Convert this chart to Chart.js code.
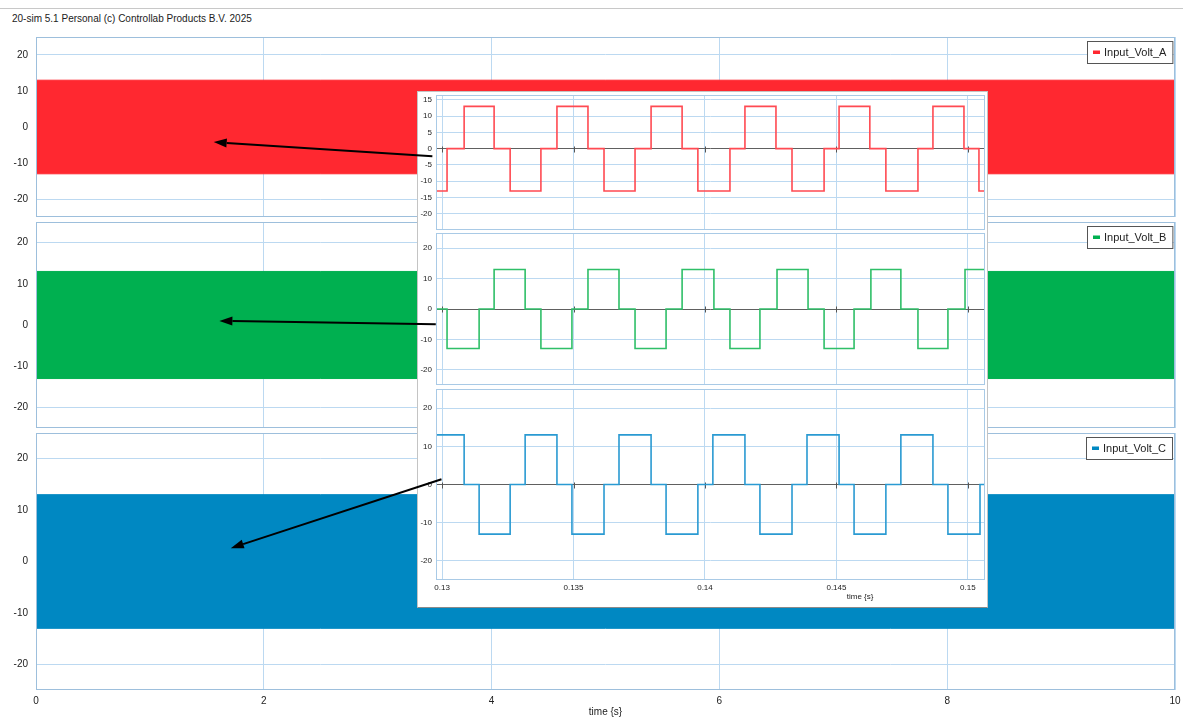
<!DOCTYPE html>
<html lang="en">
<head>
<meta charset="UTF-8">
<title>Input voltages</title>
<script src="https://cdn.jsdelivr.net/npm/chart.js"></script>
<style>
  body { margin: 0; background: #fff; width: 1183px; height: 719px; position: relative; overflow: hidden; font-family: "Liberation Sans", Arial, sans-serif; }
  canvas { position: absolute; }
  #topline { position: absolute; left: 0; top: 8px; width: 1183px; height: 1px; background: #c8c8c8; }
  #header { position: absolute; left: 12px; top: 13px; font-size: 10px; line-height: 12px; color: #222; }
  #inset { position: absolute; left: 417px; top: 91px; width: 569px; height: 515px; background: #fff; border: 1px solid #c4c4c4; border-bottom-color: #8a8a8a; }
  #arrows { z-index: 5; pointer-events: none; }
</style>
</head>
<body>
<div id="topline"></div>
<div id="header">20-sim 5.1 Personal (c) Controllab Products B.V. 2025</div>

<canvas id="panelA" width="1183" height="182" style="left:0;top:36px"></canvas>
<canvas id="panelB" width="1183" height="208" style="left:0;top:221px"></canvas>
<canvas id="panelC" width="1183" height="287" style="left:0;top:432px"></canvas>

<div id="inset"></div>
<canvas id="zoomA" width="568" height="140" style="left:418px;top:92px"></canvas>
<canvas id="zoomB" width="568" height="156" style="left:418px;top:231px"></canvas>
<canvas id="zoomC" width="568" height="220" style="left:418px;top:387px"></canvas>

<canvas id="arrows" width="1183" height="719" style="left:0;top:0"></canvas>

<script>
// whole run, 0..10 s. the switching is far too fast to see single periods here,
// so only the band between the two levels is drawn
const runTime = [0, 10];
const voltAMax = [13, 13];
const voltAMin = [-13, -13];
const voltBMax = [13, 13];
const voltBMin = [-13, -13];
const voltCMax = [13, 13];
const voltCMin = [-13, -13];
const runTicks = [0, 2, 4, 6, 8, 10];
const voltTicks = [-20, -10, 0, 10, 20];

// zoom window 0.13..0.15 s: switching instants and the level held from each one on
const zoomATime = [0.12977, 0.13019, 0.13084, 0.13198, 0.13259, 0.13376, 0.13437, 0.13555, 0.13616,
  0.13734, 0.13795, 0.13913, 0.13973, 0.14095, 0.14152, 0.14270, 0.14331, 0.14453, 0.14510, 0.14627,
  0.14688, 0.14810, 0.14867, 0.14985, 0.15042, 0.15065];
const zoomALevel = [-13, 0, 13, 0, -13, 0, 13, 0, -13, 0, 13, 0, -13, 0, 13, 0, -13, 0, 13, 0,
  -13, 0, 13, 0, -13, -13];

const zoomBTime = [0.12977, 0.13019, 0.13141, 0.13198, 0.13316, 0.13376, 0.13494, 0.13555, 0.13673,
  0.13734, 0.13852, 0.13913, 0.14034, 0.14095, 0.14209, 0.14274, 0.14392, 0.14453, 0.14567, 0.14631,
  0.14745, 0.14810, 0.14924, 0.14989, 0.15065];
const zoomBLevel = [0, -13, 0, 13, 0, -13, 0, 13, 0, -13, 0, 13, 0, -13, 0, 13, 0, -13, 0, 13,
  0, -13, 0, 13, 13];

const zoomCTime = [0.12977, 0.13084, 0.13141, 0.13259, 0.13316, 0.13437, 0.13494, 0.13616, 0.13673,
  0.13795, 0.13852, 0.13973, 0.14030, 0.14152, 0.14209, 0.14331, 0.14388, 0.14510, 0.14567, 0.14688,
  0.14745, 0.14867, 0.14924, 0.15046, 0.15065];
const zoomCLevel = [13, 0, -13, 0, 13, 0, -13, 0, 13, 0, -13, 0, 13, 0, -13, 0, 13, 0, -13, 0,
  13, 0, -13, 0, 0];

const zoomTicks = [0.13, 0.135, 0.14, 0.145, 0.15];
const zoomATicks = [-20, -15, -10, -5, 0, 5, 10, 15];

// arrows from the zoom window back to the bands (panel time / volt values)
const arrowFrom = [[3.48, -8.1], [3.51, 0.2], [3.56, 16.0]];
const arrowTo = [[1.56, -4.2], [1.61, 1.0], [1.71, 2.6]];

const RED = '#ff2830', GREEN = '#00b050', BLUE = '#0088c2';
const GRID = '#bcd9f1', FRAME = '#9dbfdc';

Chart.defaults.font.family = '"Liberation Sans", Arial, sans-serif';
Chart.defaults.color = '#222';

// border round the plot area
const framePlugin = {
  id: 'frame',
  afterDatasetsDraw(chart, args, opts) {
    const a = chart.chartArea, ctx = chart.ctx;
    ctx.save();
    ctx.strokeStyle = opts.color;
    ctx.lineWidth = 1;
    ctx.strokeRect(a.left + 0.5, a.top + 0.5, a.right - a.left - 1, a.bottom - a.top - 1);
    ctx.restore();
  }
};

// small boxed legend in the top right corner
const boxLegend = {
  id: 'boxLegend',
  afterDraw(chart, args, opts) {
    if (!opts.text) return;
    const a = chart.chartArea, ctx = chart.ctx;
    ctx.save();
    ctx.font = '11px "Liberation Sans", Arial, sans-serif';
    const w = 18 + ctx.measureText(opts.text).width + 5, h = 22;
    const x = Math.round(a.right - 3 - w), y = a.top + 4;
    ctx.fillStyle = '#fff';
    ctx.fillRect(x, y, w, h);
    ctx.strokeStyle = '#555';
    ctx.strokeRect(x + 0.5, y + 0.5, w, h);
    ctx.fillStyle = opts.color;
    ctx.fillRect(x + 6, y + h / 2 - 1.5, 7, 3.5);
    ctx.fillStyle = '#222';
    ctx.textBaseline = 'middle';
    ctx.fillText(opts.text, x + 17, y + h / 2 + 1);
    ctx.restore();
  }
};

// dark zero line marks where the time grid crosses it
const zeroMarks = {
  id: 'zeroMarks',
  beforeDatasetsDraw(chart) {
    const ctx = chart.ctx, y0 = Math.round(chart.scales.y.getPixelForValue(0)) + 0.5;
    ctx.save();
    ctx.strokeStyle = '#555';
    ctx.lineWidth = 1;
    chart.scales.x.ticks.forEach(t => {
      const px = Math.round(chart.scales.x.getPixelForValue(t.value)) + 0.5;
      ctx.beginPath(); ctx.moveTo(px, y0 - 3); ctx.lineTo(px, y0 + 3); ctx.stroke();
    });
    ctx.restore();
  }
};

// axis title of the zoom window, sits off-centre
const zoomTitle = {
  id: 'zoomTitle',
  afterDraw(chart, args, opts) {
    if (!opts.text) return;
    const ctx = chart.ctx;
    ctx.save();
    ctx.font = '8px "Liberation Sans", Arial, sans-serif';
    ctx.fillStyle = '#222';
    ctx.textAlign = 'center';
    ctx.textBaseline = 'middle';
    ctx.fillText(opts.text, chart.scales.x.getPixelForValue(opts.at), chart.chartArea.bottom + 17);
    ctx.restore();
  }
};

// keep the plot area exactly where the layout padding puts it
function noPad(s) {
  s.paddingTop = 0; s.paddingBottom = 0; s.paddingLeft = 0; s.paddingRight = 0;
}

function bandPanel(id, name, color, maxV, minV, showAxis) {
  return new Chart(document.getElementById(id), {
    type: 'line',
    data: {
      datasets: [
        { label: name, data: runTime.map((t, i) => ({ x: t, y: maxV[i] })), borderColor: color,
          backgroundColor: color, borderWidth: 1, pointRadius: 0, fill: '+1' },
        { label: name + ' min', data: runTime.map((t, i) => ({ x: t, y: minV[i] })), borderColor: color,
          borderWidth: 1, pointRadius: 0, fill: false }
      ]
    },
    options: {
      responsive: false, animation: false, devicePixelRatio: 1,
      layout: { autoPadding: false, padding: { top: 1, right: 8, bottom: showAxis ? 0 : 1, left: 0 } },
      plugins: {
        legend: { display: false }, tooltip: { enabled: false },
        frame: { color: FRAME }, boxLegend: { text: name, color: color }
      },
      scales: {
        x: {
          type: 'linear', min: 0, max: 10,
          afterBuildTicks: s => { s.ticks = runTicks.map(v => ({ value: v })); },
          afterFit: s => { s.height = showAxis ? 29 : 0; noPad(s); },
          grid: { color: GRID, drawTicks: false }, border: { display: false },
          ticks: { display: showAxis, padding: 5, font: { size: 10 }, maxRotation: 0, autoSkip: false },
          title: { display: showAxis, text: 'time {s}', font: { size: 10 }, padding: { top: 0, bottom: 1 } }
        },
        y: {
          min: -25, max: 25,
          afterBuildTicks: s => { s.ticks = voltTicks.map(v => ({ value: v })); },
          afterFit: s => { s.width = 36; noPad(s); },
          grid: { color: GRID, drawTicks: false }, border: { display: false },
          ticks: { padding: 8, font: { size: 10 } }
        }
      }
    },
    plugins: [framePlugin, boxLegend]
  });
}

function zoomPanel(id, color, times, levels, yMin, yMax, yTicks, padTop, padBottom, showAxis) {
  return new Chart(document.getElementById(id), {
    type: 'line',
    data: {
      datasets: [{
        data: times.map((t, i) => ({ x: t, y: levels[i] })), stepped: 'before',
        borderColor: color, borderWidth: 1.6, pointRadius: 0, fill: false
      }]
    },
    options: {
      responsive: false, animation: false, devicePixelRatio: 1,
      layout: { autoPadding: false, padding: { top: padTop, right: 1, bottom: padBottom, left: 0 } },
      plugins: {
        legend: { display: false }, tooltip: { enabled: false },
        frame: { color: '#a9cae6' }, zoomTitle: { text: showAxis ? 'time {s}' : '', at: 0.1459 }
      },
      scales: {
        x: {
          type: 'linear', min: 0.12977, max: 0.15065,
          afterBuildTicks: s => { s.ticks = zoomTicks.map(v => ({ value: v })); },
          afterFit: s => { s.height = showAxis ? 27 : 0; noPad(s); },
          grid: { color: GRID, drawTicks: false }, border: { display: false },
          ticks: { display: showAxis, padding: 3, font: { size: 8 }, maxRotation: 0, autoSkip: false,
                   callback: v => String(v) }
        },
        y: {
          min: yMin, max: yMax,
          afterBuildTicks: s => { s.ticks = yTicks.map(v => ({ value: v })); },
          afterFit: s => { s.width = 18; noPad(s); },
          grid: { color: c => (c.tick && c.tick.value === 0 ? '#606060' : GRID), drawTicks: false },
          border: { display: false },
          ticks: { padding: 4, font: { size: 8 } }
        }
      }
    },
    plugins: [framePlugin, zeroMarks, zoomTitle]
  });
}

const panels = [
  bandPanel('panelA', 'Input_Volt_A', RED, voltAMax, voltAMin, false),
  bandPanel('panelB', 'Input_Volt_B', GREEN, voltBMax, voltBMin, false),
  bandPanel('panelC', 'Input_Volt_C', BLUE, voltCMax, voltCMin, true)
];

zoomPanel('zoomA', '#ff4a52', zoomATime, zoomALevel, -25, 16.5, zoomATicks, 3, 2, false);
zoomPanel('zoomB', '#2fbf68', zoomBTime, zoomBLevel, -25, 25, voltTicks, 2, 2, false);
zoomPanel('zoomC', '#2a9ad2', zoomCTime, zoomCLevel, -25, 25, voltTicks, 2, 0, true);

// arrows drawn last, over the zoom window
const actx = document.getElementById('arrows').getContext('2d');
actx.strokeStyle = '#000';
actx.fillStyle = '#000';
actx.lineWidth = 2;
panels.forEach((p, i) => {
  const cv = p.canvas;
  const x0 = cv.offsetLeft + p.scales.x.getPixelForValue(arrowFrom[i][0]);
  const y0 = cv.offsetTop + p.scales.y.getPixelForValue(arrowFrom[i][1]);
  const x1 = cv.offsetLeft + p.scales.x.getPixelForValue(arrowTo[i][0]);
  const y1 = cv.offsetTop + p.scales.y.getPixelForValue(arrowTo[i][1]);
  const a = Math.atan2(y1 - y0, x1 - x0);
  const bx = x1 - 13 * Math.cos(a), by = y1 - 13 * Math.sin(a);
  actx.beginPath();
  actx.moveTo(x0, y0);
  actx.lineTo(bx, by);
  actx.stroke();
  actx.beginPath();
  actx.moveTo(x1, y1);
  actx.lineTo(bx - 4.5 * Math.sin(a), by + 4.5 * Math.cos(a));
  actx.lineTo(bx + 4.5 * Math.sin(a), by - 4.5 * Math.cos(a));
  actx.closePath();
  actx.fill();
});
</script>
</body>
</html>
